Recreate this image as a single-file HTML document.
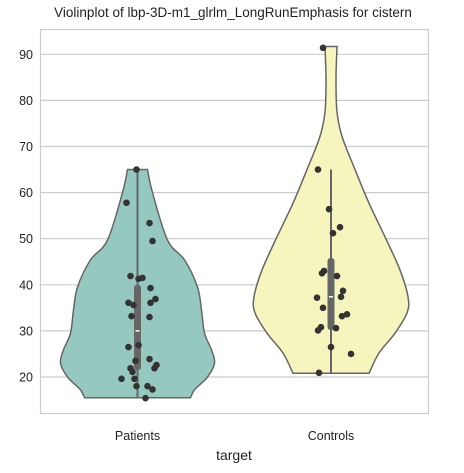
<!DOCTYPE html>
<html><head><meta charset="utf-8"><style>
html,body{margin:0;padding:0;background:#fff;}
svg{display:block;font-family:"Liberation Sans","DejaVu Sans",sans-serif;}
</style></head><body>
<svg id="chart" width="464" height="473" viewBox="0 0 464 473">
<text x="233" y="17" text-anchor="middle" font-size="13.5" fill="#222">Violinplot of lbp-3D-m1_glrlm_LongRunEmphasis for cistern</text>
<g id="grid"></g>
<g id="violins"></g>
<g id="points"></g>
<rect x="40.5" y="29.5" width="388" height="384" fill="none" stroke="#cccccc" stroke-width="1.2"/>
<g id="yticks"></g>
<g id="xticks"></g>
<text x="234" y="460" text-anchor="middle" font-size="14" fill="#222">target</text>
</svg>
<script>
const categories = ["Patients", "Controls"];
const yTicks = [20, 30, 40, 50, 60, 70, 80, 90];
const colors = ["#95c9bf", "#f6f5bd"];
const patientsProfileVals = [65, 60, 49.7, 45.4, 39.5, 34.5, 29.5, 25.9, 23, 20, 17.2, 15.5];
const patientsProfileDens = [10, 15, 30, 47, 60, 64, 67, 74, 77, 70, 57, 53];
const controlsProfileVals = [91.7, 84.5, 77.5, 72.2, 65, 57.7, 50.4, 43.2, 37.4, 33.9, 29.5, 25.2, 20.8];
const controlsProfileDens = [6, 5, 6, 11, 24, 38, 54, 69, 77, 76, 64, 48, 38];
const patientsBox = [15.5, 21.5, 30, 40, 65];
const controlsBox = [20.8, 30.2, 37.4, 45.8, 65];
const patientsValues = [65,57.8,53.4,49.5,41.9,41.3,41.5,39.3,36.9,36.1,35.6,36.1,33.2,33.0,26.5,26.9,23.9,23.5,21.9,21.1,21.9,22.6,19.6,19.6,18.0,18.0,17.3,15.4];
const patientsJitter = [-1,-11,12,15,-7,1,5,13,18,-9,-4,13,-6,12,-9,1,12,-2,-7,-5,17,19,-16,-3,-1,10,15,8];
const controlsValues = [91.4,65,56.4,52.5,51.2,42.5,43,41.9,38.7,37.4,37.2,35,33.2,33.6,30.8,30.1,30.6,26.5,25,20.9];
const controlsJitter = [-8,-13,-2,9,2,-9,-7,6,12,10,-14,-8,11,16,-10,-13,5,0,20,-12];

const NS = "http://www.w3.org/2000/svg";
const plotLeft = 40, plotRight = 428, plotTop = 29, plotBottom = 413;
function y(v){ return 377 - (v - 20) * 4.61; }
const xCenters = [137.5, 331];
function x(i){ return xCenters[i]; }
function mk(tag, attrs, parent){ const e=document.createElementNS(NS,tag); for(const k in attrs) e.setAttribute(k,attrs[k]); parent.appendChild(e); return e; }

const grid = document.getElementById('grid');
const yt = document.getElementById('yticks');
yTicks.forEach(t=>{
  const l = mk('line',{x1:plotLeft,x2:plotRight,y1:y(t),y2:y(t),stroke:'#cccccc','stroke-width':1.2},grid);
  
  
  const tx = mk('text',{x:33,y:y(t)+4.5,'text-anchor':'end','font-size':12.5,fill:'#222'},yt);
  tx.textContent = t;
  
  
});
const xt = document.getElementById('xticks');
categories.forEach((c,i)=>{
  const tx = mk('text',{x:x(i),y:440,'text-anchor':'middle','font-size':12.5,fill:'#222'},xt);
  tx.textContent = c;
  
  
});

const vg = document.getElementById('violins');
const profiles = [[patientsProfileVals,patientsProfileDens],[controlsProfileVals,controlsProfileDens]];
const boxes = [patientsBox, controlsBox];
function smooth(arr){
  let d='';
  for(let k=0;k<arr.length-1;k++){
    const p0=arr[Math.max(k-1,0)],p1=arr[k],p2=arr[k+1],p3=arr[Math.min(k+2,arr.length-1)];
    const c1=[p1[0]+(p2[0]-p0[0])/6,p1[1]+(p2[1]-p0[1])/6];
    const c2=[p2[0]-(p3[0]-p1[0])/6,p2[1]-(p3[1]-p1[1])/6];
    d+=` C${c1[0]},${c1[1]} ${c2[0]},${c2[1]} ${p2[0]},${p2[1]}`;
  }
  return d;
}
profiles.forEach((p,i)=>{
  const vals=p[0], dens=p[1], cx=x(i);
  const R = vals.map((v,k)=>[cx+dens[k], y(v)]);
  const L = vals.map((v,k)=>[cx-dens[k], y(v)]).reverse();
  const d=`M${L[L.length-1][0]},${L[L.length-1][1]} L${R[0][0]},${R[0][1]}`+smooth(R)+` L${L[0][0]},${L[0][1]}`+smooth(L)+'Z';
  const path = mk('path',{d:d,fill:colors[i],stroke:'#666','stroke-width':1.5},vg);
  
  
  const b = boxes[i];
  const wl = mk('line',{x1:cx,x2:cx,y1:y(b[0]),y2:y(b[4]),stroke:'#666','stroke-width':2},vg);
  
  
  const bx = mk('rect',{x:cx-3.5,y:y(b[3]),width:7,height:y(b[1])-y(b[3]),rx:3,fill:'#666'},vg);
  
  
  const md = mk('line',{x1:cx-2,x2:cx+2,y1:y(b[2]),y2:y(b[2]),stroke:'#fff','stroke-width':1.5},vg);
  
  
});

const pg = document.getElementById('points');
[[patientsValues,patientsJitter],[controlsValues,controlsJitter]].forEach((s,i)=>{
  s[0].forEach((v,k)=>{
    const c = mk('circle',{cx:x(i)+s[1][k],cy:y(v),r:3.3,fill:'#333'},pg);
    
    
  });
});
</script>
</body></html>
